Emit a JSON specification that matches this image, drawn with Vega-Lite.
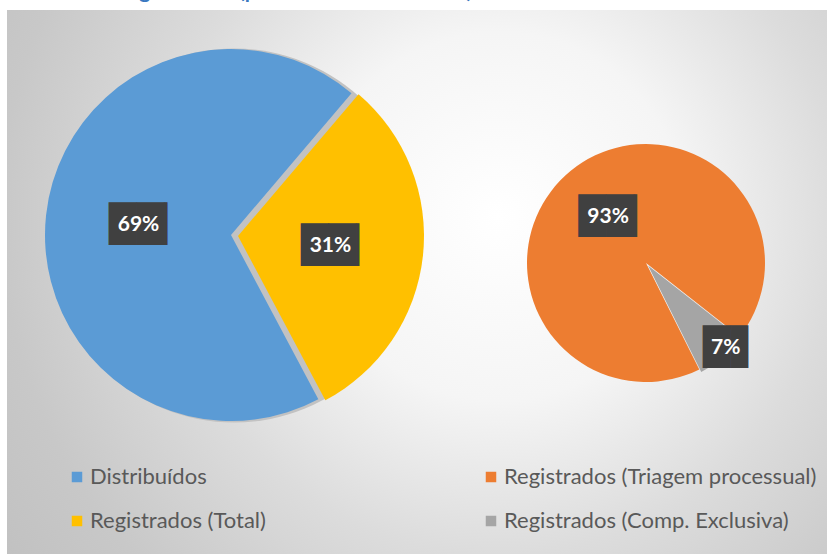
{
  "$schema": "https://vega.github.io/schema/vega-lite/v6.json",
  "width": 820,
  "height": 544,
  "autosize": "none",
  "padding": {"left": 7, "top": 10, "right": 0, "bottom": 0},
  "background": "#ffffff",
  "config": {"view": {"stroke": null}, "font": "Lato"},
  "datasets": {
    "fatias": [
      {"grafico": "principal", "categoria": "Distribuídos", "valor": 0.69},
      {"grafico": "principal", "categoria": "Registrados (Total)", "valor": 0.31},
      {"grafico": "secundario", "categoria": "Registrados (Triagem processual)", "valor": 0.93},
      {"grafico": "secundario", "categoria": "Registrados (Comp. Exclusiva)", "valor": 0.07}
    ]
  },
  "resolve": {"scale": {"theta": "independent"}},
  "layer": [
    {
      "data": {"values": [{}]},
      "mark": {
        "type": "rect", "x": 0, "y": 0, "x2": "width", "y2": "height",
        "fill": {
          "gradient": "radial", "x1": 0.6, "y1": 0.42, "r1": 0, "x2": 0.6, "y2": 0.42, "r2": 0.75,
          "stops": [
            {"offset": 0, "color": "#ffffff"},
            {"offset": 0.3, "color": "#f5f5f5"},
            {"offset": 0.55, "color": "#dcdcdc"},
            {"offset": 0.81, "color": "#c8c8c8"},
            {"offset": 1, "color": "#c0c0c0"}
          ]
        }
      },
      "encoding": {}
    },
    {
      "data": {"values": [{}]},
      "mark": {"type": "text", "x": 98, "y": -12, "text": "Triagem Geral (percentual sobre o total)", "align": "left", "baseline": "alphabetic", "font": "Lato", "fontWeight": "bold", "fontSize": 21, "fill": "#3a78c0"},
      "encoding": {}
    },
    {
      "data": {"values": [{}]},
      "mark": {"type": "arc", "x": 227, "y": 225.5, "outerRadius": 187, "theta": 0, "theta2": 6.2832, "fill": "#c2c2c2"},
      "encoding": {}
    },
    {
      "data": {"values": [{}]},
      "mark": {"type": "rule", "x": 367, "y": 84, "x2": 644, "y2": 133, "stroke": "#000000", "strokeWidth": 1.6},
      "encoding": {}
    },
    {
      "data": {"values": [{}]},
      "mark": {"type": "rule", "x": 335, "y": 388, "x2": 621, "y2": 372, "stroke": "#000000", "strokeWidth": 1.6},
      "encoding": {}
    },
    {
      "data": {"name": "fatias"},
      "transform": [{"filter": "datum.grafico == 'principal'"}],
      "encoding": {
        "theta": {"field": "valor", "type": "quantitative", "stack": true, "scale": {"range": [0.705, 6.988]}},
        "order": {"field": "valor", "sort": "ascending"},
        "opacity": {"condition": {"test": "datum.categoria == 'Registrados (Total)'", "value": 0}, "value": 1}
      },
      "layer": [
        {
          "mark": {"type": "arc", "x": 224, "y": 225, "outerRadius": 186},
          "encoding": {
            "color": {
              "field": "categoria", "type": "nominal",
              "scale": {"domain": ["Distribuídos", "Registrados (Total)", "Registrados (Triagem processual)", "Registrados (Comp. Exclusiva)"], "range": ["#5B9BD5", "#FFC000", "#ED7D31", "#A5A5A5"]},
              "legend": {"orient": "none", "legendX": 59, "legendY": 456, "columns": 2, "columnPadding": 214, "rowPadding": 22, "padding": 0, "title": null, "symbolType": "square", "symbolSize": 110, "symbolStrokeWidth": 0, "labelFont": "Lato", "labelFontSize": 22, "labelColor": "#595959", "labelOffset": 2, "labelLimit": 500}
            }
          }
        },
        {
          "mark": {"type": "text", "x": 224, "y": 225, "radius": 93, "text": "██▏", "dx": 12, "font": "DejaVu Sans", "fontSize": 36, "fill": "#404040", "align": "center", "baseline": "middle"},
          "encoding": {"detail": {"field": "categoria"}}
        },
        {
          "mark": {"type": "text", "x": 224, "y": 225, "radius": 93, "font": "Lato", "fontWeight": "bold", "fontSize": 21, "fill": "#ffffff", "align": "center", "baseline": "middle"},
          "encoding": {"detail": {"field": "categoria"}, "text": {"field": "valor", "type": "quantitative", "format": ".0%"}}
        }
      ]
    },
    {
      "data": {"name": "fatias"},
      "transform": [{"filter": "datum.grafico == 'principal'"}],
      "encoding": {
        "theta": {"field": "valor", "type": "quantitative", "stack": true, "scale": {"range": [0.705, 6.988]}},
        "order": {"field": "valor", "sort": "ascending"},
        "opacity": {"condition": {"test": "datum.categoria == 'Distribuídos'", "value": 0}, "value": 1}
      },
      "layer": [
        {
          "mark": {"type": "arc", "x": 231, "y": 226, "outerRadius": 186},
          "encoding": {"color": {"field": "categoria", "type": "nominal"}}
        },
        {
          "mark": {"type": "text", "x": 231, "y": 226, "radius": 93, "text": "██▏", "dx": 12, "font": "DejaVu Sans", "fontSize": 36, "fill": "#404040", "align": "center", "baseline": "middle"},
          "encoding": {"detail": {"field": "categoria"}}
        },
        {
          "mark": {"type": "text", "x": 231, "y": 226, "radius": 93, "font": "Lato", "fontWeight": "bold", "fontSize": 21, "fill": "#ffffff", "align": "center", "baseline": "middle"},
          "encoding": {"detail": {"field": "categoria"}, "text": {"field": "valor", "type": "quantitative", "format": ".0%"}}
        }
      ]
    },
    {
      "data": {"name": "fatias"},
      "transform": [{"filter": "datum.grafico == 'secundario'"}],
      "encoding": {
        "theta": {"field": "valor", "type": "quantitative", "stack": true, "scale": {"range": [2.2375, 8.5207]}},
        "order": {"field": "valor", "sort": "ascending"},
        "opacity": {"condition": {"test": "datum.categoria == 'Registrados (Comp. Exclusiva)'", "value": 0}, "value": 1}
      },
      "layer": [
        {
          "mark": {"type": "arc", "x": 639, "y": 253, "outerRadius": 119},
          "encoding": {"color": {"field": "categoria", "type": "nominal"}}
        },
        {
          "mark": {"type": "text", "x": 639, "y": 253, "radius": 60, "text": "██▏", "dx": 12, "font": "DejaVu Sans", "fontSize": 36, "fill": "#404040", "align": "center", "baseline": "middle"},
          "encoding": {"detail": {"field": "categoria"}}
        },
        {
          "mark": {"type": "text", "x": 639, "y": 253, "radius": 60, "font": "Lato", "fontWeight": "bold", "fontSize": 21, "fill": "#ffffff", "align": "center", "baseline": "middle"},
          "encoding": {"detail": {"field": "categoria"}, "text": {"field": "valor", "type": "quantitative", "format": ".0%"}}
        }
      ]
    },
    {
      "data": {"name": "fatias"},
      "transform": [{"filter": "datum.grafico == 'secundario'"}],
      "encoding": {
        "theta": {"field": "valor", "type": "quantitative", "stack": true, "scale": {"range": [2.2375, 8.5207]}},
        "order": {"field": "valor", "sort": "ascending"},
        "opacity": {"condition": {"test": "datum.categoria == 'Registrados (Triagem processual)'", "value": 0}, "value": 1}
      },
      "layer": [
        {
          "mark": {"type": "arc", "x": 641, "y": 255.5, "outerRadius": 119},
          "encoding": {"color": {"field": "categoria", "type": "nominal"}}
        },
        {
          "mark": {"type": "text", "x": 641, "y": 255.5, "radius": 112, "text": "█▋", "dx": 12, "dy": -4, "font": "DejaVu Sans", "fontSize": 36, "fill": "#404040", "align": "center", "baseline": "middle"},
          "encoding": {"detail": {"field": "categoria"}}
        },
        {
          "mark": {"type": "text", "x": 641, "y": 255.5, "radius": 112, "dx": 7, "dy": -4, "font": "Lato", "fontWeight": "bold", "fontSize": 21, "fill": "#ffffff", "align": "center", "baseline": "middle"},
          "encoding": {"detail": {"field": "categoria"}, "text": {"field": "valor", "type": "quantitative", "format": ".0%"}}
        }
      ]
    }
  ]
}
